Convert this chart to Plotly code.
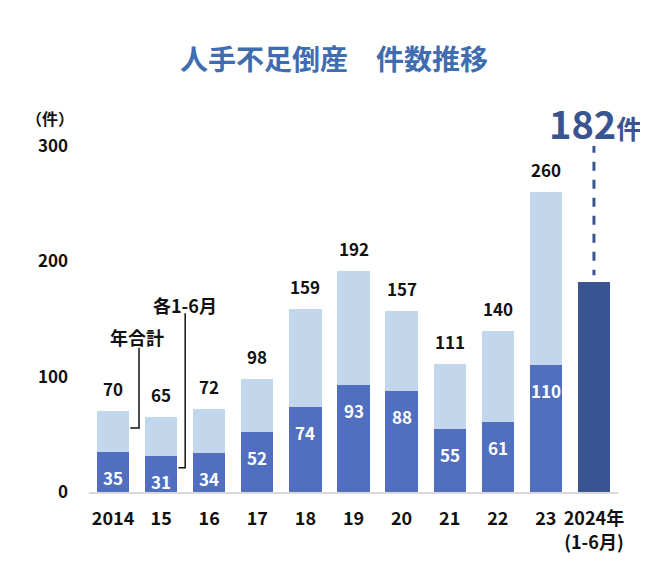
import plotly.graph_objects as go

categories = ["2014", "15", "16", "17", "18", "19", "20", "21", "22", "23", "2024年<br>(1-6月)"]
annual_total = [70, 65, 72, 98, 159, 192, 157, 111, 140, 260]
first_half = [35, 31, 34, 52, 74, 93, 88, 55, 61, 110]
latest_first_half = 182
y_ticks = [0, 100, 200, 300]

FONT = "Noto Sans CJK JP"
C_LIGHT = "#c3d7ec"
C_MID = "#5070bf"
C_NAVY = "#3a5491"
C_TITLE = "#3f6db0"

n = len(annual_total)
xs = list(range(n))
remainder = [t - h for t, h in zip(annual_total, first_half)]

fig = go.Figure()
fig.add_trace(go.Bar(x=xs, y=first_half, marker_color=C_MID, marker_line_width=0, hoverinfo="skip"))
fig.add_trace(go.Bar(x=xs, y=remainder, marker_color=C_LIGHT, marker_line_width=0, hoverinfo="skip"))
fig.add_trace(go.Bar(x=[n], y=[latest_first_half], marker_color=C_NAVY, marker_line_width=0, hoverinfo="skip"))

ann = []
for i, (t, h) in enumerate(zip(annual_total, first_half)):
    ann.append(dict(x=i, y=t, text=str(t), showarrow=False, yanchor="bottom", yshift=8,
                    font=dict(family=FONT, size=17, color="#111111", weight="bold")))
    ann.append(dict(x=i, y=h, text=str(h), showarrow=False, yanchor="top", yshift=-11,
                    font=dict(family=FONT, size=17, color="white", weight="bold")))

ann.append(dict(x=n, xref="x", y=1.069, yref="paper",
                text="<span style='font-size:38px'>182</span><span style='font-size:26px'>件</span>",
                showarrow=False, yanchor="middle", xshift=2,
                font=dict(family=FONT, size=38, color=C_NAVY, weight="bold")))
ann.append(dict(x=0.5, y=134, text="年合計", showarrow=False,
                font=dict(family=FONT, size=18, color="#111111", weight="bold")))
ann.append(dict(x=1.5, y=162, text="各1-6月", showarrow=False,
                font=dict(family=FONT, size=18, color="#111111", weight="bold")))
ann.append(dict(xref="paper", yref="paper", x=-0.074, y=1.081, text="（件）", showarrow=False,
                xanchor="center", yanchor="middle",
                font=dict(family=FONT, size=16, color="#111111", weight="bold")))

shapes = [
    dict(type="path", xref="x", yref="y", path="M 0.54,125 L 0.54,55.5 L 0.36,55.5",
         line=dict(color="#111111", width=1.5)),
    dict(type="path", xref="x", yref="y", path="M 1.5,155 L 1.5,21 L 1.36,21",
         line=dict(color="#111111", width=1.5)),
    dict(type="line", xref="x", yref="y", x0=n, x1=n, y0=302, y1=188,
         line=dict(color=C_NAVY, width=3, dash="dash")),
]

fig.update_layout(
    width=648, height=574,
    margin=dict(l=81, r=38, t=138, b=90),
    barmode="stack", bargap=0.33,
    showlegend=False,
    plot_bgcolor="white", paper_bgcolor="white",
    title=dict(text="人手不足倒産　件数推移", x=0.503, xanchor="center", y=0.909, yanchor="middle",
               font=dict(family=FONT, size=28, color=C_TITLE, weight="bold")),
    annotations=ann,
    shapes=shapes,
    xaxis=dict(range=[-0.5, n + 0.5], tickvals=list(range(n + 1)), ticktext=categories,
               showgrid=False, showline=True, linecolor="#d9d9d9", linewidth=1.5,
               ticks="", ticklabelstandoff=10, zeroline=False,
               tickfont=dict(family=FONT, size=18, color="#111111", weight="bold")),
    yaxis=dict(range=[0, 300], tickvals=y_ticks, showgrid=False, zeroline=False, showline=False,
               ticks="", ticklabelstandoff=20,
               tickfont=dict(family=FONT, size=17, color="#111111", weight="bold")),
)

fig.write_html("out.html")
